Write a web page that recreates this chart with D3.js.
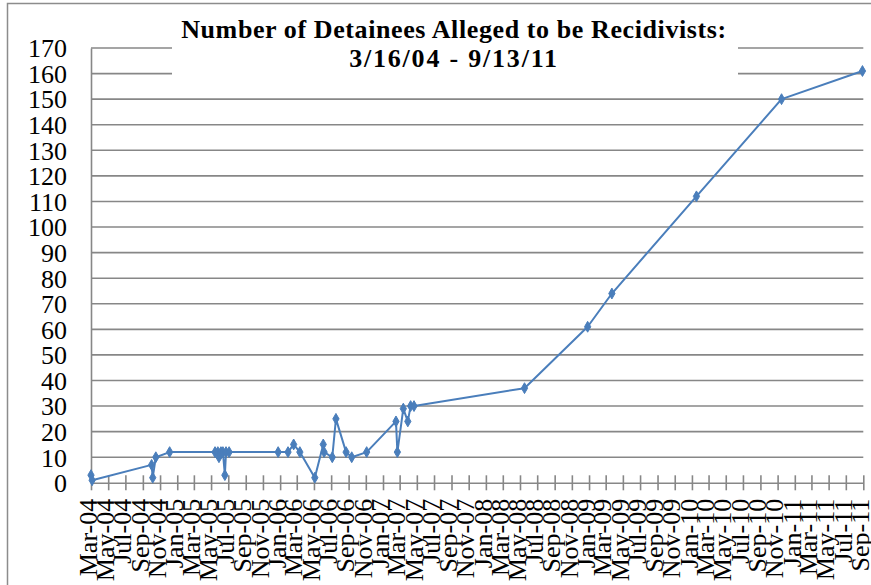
<!DOCTYPE html>
<html>
<head>
<meta charset="utf-8">
<script src="https://cdn.jsdelivr.net/npm/d3@7"></script>
<style>
  body { margin: 0; background: #fff; }
  svg { display: block; }
  text { font-family: "Liberation Serif", "Times New Roman", serif; fill: #000; }
</style>
</head>
<body>
<div id="chart"></div>
<script>
// report dates (m/d/yy) and number of detainees alleged to be recidivists
var dates = [
  "3/16/04", "3/20/04", "10/17/04", "10/21/04", "11/1/04", "12/20/04",
  "5/30/05", "6/9/05", "6/13/05", "6/20/05", "6/27/05", "7/4/05", "7/8/05", "7/19/05",
  "1/9/06", "2/13/06", "3/5/06", "3/27/06", "5/19/06", "6/18/06", "6/21/06", "7/20/06",
  "8/2/06", "9/7/06", "9/27/06", "11/19/06",
  "3/3/07", "3/8/07", "3/29/07", "4/14/07", "4/24/07", "5/6/07",
  "6/1/08", "1/11/09", "4/7/09", "2/1/10", "11/30/10", "9/13/11"
];
var detainees = [
  3, 1, 7, 2, 10, 12,
  12, 12, 10, 12, 12, 3, 12, 12,
  12, 12, 15, 12, 2, 15, 12, 10,
  25, 12, 10, 12,
  24, 12, 29, 24, 30, 30,
  37, 61, 74, 112, 150, 161
];
var yTicks = d3.range(0, 171, 10);
var axisStart = "3/16/04", axisEnd = "9/16/11";
var titleLines = ["Number of Detainees Alleged to be Recidivists:", "3/16/04 - 9/13/11"];

var parse = d3.timeParse("%m/%d/%y");
var fmt = d3.timeFormat("%b-%y");

var width = 871, height = 585;
var margin = { top: 48, right: 8, bottom: 102, left: 91 };

var svg = d3.select("#chart").append("svg")
  .attr("width", width)
  .attr("height", height);

// chart area border
svg.append("rect")
  .attr("x", 7.5).attr("y", 3.5)
  .attr("width", width + 20).attr("height", height + 20)
  .attr("fill", "#fff")
  .attr("stroke", "#8c8c8c")
  .attr("stroke-width", 1.5);

var x = d3.scaleTime()
  .domain([parse(axisStart), parse(axisEnd)])
  .range([margin.left, 863.3]);

var y = d3.scaleLinear()
  .domain([0, 170])
  .range([482.8, margin.top]);

var data = dates.map(function(d, i) {
  return { date: parse(d), value: detainees[i] };
});

// tick every 2 months from the axis start
var xTicks = d3.range(46).map(function(i) {
  return d3.timeMonth.offset(parse(axisStart), 2 * i);
});

// horizontal gridlines
svg.append("g")
  .selectAll("line")
  .data(yTicks.filter(function(d) { return d > 0; }))
  .enter().append("line")
  .attr("x1", x.range()[0]).attr("x2", x.range()[1])
  .attr("y1", function(d) { return y(d); })
  .attr("y2", function(d) { return y(d); })
  .attr("stroke", "#878787")
  .attr("stroke-width", 1.6);

// y axis
var yAxis = d3.axisLeft(y).tickValues(yTicks).tickSize(0).tickPadding(24);
var gy = svg.append("g")
  .attr("transform", "translate(" + margin.left + ",0)")
  .call(yAxis);
gy.select(".domain").attr("stroke", "#878787").attr("stroke-width", 1.6);
gy.selectAll("text")
  .style("font-size", "26px")
  .attr("dy", "0.34em");

// x axis with cross ticks
var xAxis = d3.axisBottom(x).tickValues(xTicks).tickFormat(fmt).tickSizeInner(7.5).tickSizeOuter(0);
var gx = svg.append("g")
  .attr("transform", "translate(0," + y(0) + ")")
  .call(xAxis);
gx.select(".domain").attr("stroke", "#878787").attr("stroke-width", 1.6);
gx.selectAll(".tick line")
  .attr("y1", -7.5)
  .attr("stroke", "#878787")
  .attr("stroke-width", 1.6);
gx.selectAll(".tick text")
  .style("font-size", "26px")
  .attr("text-anchor", "end")
  .attr("transform", "rotate(-90)")
  .attr("x", -16)
  .attr("y", 0)
  .attr("dy", "0.2em");

// title with white background box
svg.append("rect")
  .attr("x", 172).attr("y", 12)
  .attr("width", 566).attr("height", 70)
  .attr("fill", "#fff");

svg.append("g")
  .selectAll("text")
  .data(titleLines)
  .enter().append("text")
  .attr("x", 454)
  .attr("y", function(d, i) { return 38 + i * 29; })
  .attr("text-anchor", "middle")
  .style("font-size", "26px")
  .style("font-weight", "bold")
  .style("letter-spacing", function(d, i) { return i === 0 ? "0.6px" : "1.8px"; })
  .text(function(d) { return d; });

// series line
var line = d3.line()
  .x(function(d) { return x(d.date); })
  .y(function(d) { return y(d.value); });

svg.append("path")
  .datum(data)
  .attr("d", line)
  .attr("fill", "none")
  .attr("stroke", "#4a7ebb")
  .attr("stroke-width", 2)
  .attr("stroke-linejoin", "round");

// diamond markers
var diamond = d3.symbol().type(d3.symbolDiamond).size(34);
svg.append("g")
  .selectAll("path")
  .data(data)
  .enter().append("path")
  .attr("d", diamond)
  .attr("transform", function(d) { return "translate(" + x(d.date) + "," + y(d.value) + ")"; })
  .attr("fill", "#4a7ebb")
  .attr("stroke", "#4a7ebb")
  .attr("stroke-width", 1);
</script>
</body>
</html>
